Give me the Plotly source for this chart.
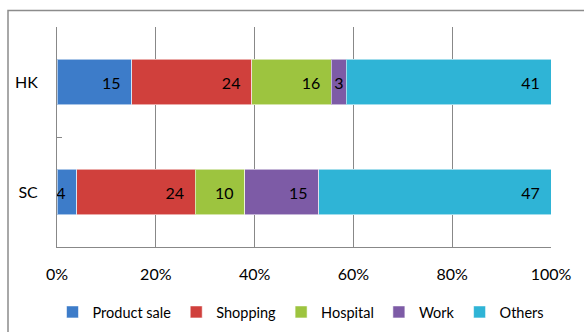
import plotly.graph_objects as go

# Share of trips by purpose, per region (stacked to 100%)
regions = ["SC", "HK"]
purposes = ["Product sale", "Shopping", "Hospital", "Work", "Others"]
values = {
    "Product sale": [4, 15],
    "Shopping": [24, 24],
    "Hospital": [10, 16],
    "Work": [15, 3],
    "Others": [47, 41],
}
colors = {
    "Product sale": "#3d7cc9",
    "Shopping": "#d0403c",
    "Hospital": "#9dc43f",
    "Work": "#7d5ba6",
    "Others": "#2fb4d6",
}
x_ticks = [0, 20, 40, 60, 80, 100]
x_tick_labels = ["0%", "20%", "40%", "60%", "80%", "100%"]

FONT = "Lato, 'Open Sans', sans-serif"
FS = 16

totals = [sum(values[p][i] for p in purposes) for i in range(len(regions))]


def label(v, total):
    # wide segments get a little breathing room before the bar end
    pad = "\u00a0\u00a0" if v / total >= 0.04 else ""
    return f"{v}{pad}"


fig = go.Figure()
for p in purposes:
    fig.add_trace(go.Bar(
        name=p,
        y=regions,
        x=values[p],
        orientation="h",
        marker=dict(color=colors[p], line=dict(color="rgba(255,255,255,0.55)", width=1)),
        text=[label(v, t) for v, t in zip(values[p], totals)],
        textposition="inside",
        insidetextanchor="end",
        constraintext="none",
        textfont=dict(family=FONT, size=FS, color="black"),
        hoverinfo="skip",
    ))

fig.update_layout(
    width=584,
    height=332,
    barmode="stack",
    barnorm="percent",
    bargap=0.59,
    paper_bgcolor="white",
    plot_bgcolor="white",
    margin=dict(l=57, r=33, t=27, b=85, autoexpand=False),
    font=dict(family=FONT, size=FS, color="black"),
    legend=dict(
        orientation="h",
        xref="container", yref="container",
        x=301 / 584, xanchor="center",
        y=1 - 312 / 332, yanchor="middle",
        font=dict(family=FONT, size=14.5),
        itemwidth=30,
        traceorder="normal",
    ),
    xaxis=dict(
        range=[0, 100],
        tickvals=x_ticks,
        ticktext=x_tick_labels,
        showgrid=True,
        gridcolor="#888888",
        gridwidth=1,
        showline=True,
        linecolor="#888888",
        linewidth=1,
        ticks="",
        ticklabelstandoff=13,
        zeroline=False,
        tickfont=dict(family=FONT, size=FS),
    ),
    yaxis=dict(
        categoryorder="array",
        categoryarray=regions,
        showline=True,
        linecolor="#888888",
        linewidth=1,
        ticks="inside",
        tickson="boundaries",
        ticklen=5,
        tickcolor="#888888",
        ticklabelstandoff=15,
        showgrid=False,
        tickfont=dict(family=FONT, size=FS),
    ),
    shapes=[
        # Chart frame (runs off the right and bottom edges)
        dict(type="rect", xref="paper", yref="paper",
             x0=(8 - 57) / 494, x1=1.2, y0=-0.6, y1=1 + (27 - 10.5) / 220,
             line=dict(color="#8c8c8c", width=1.5), layer="below"),
    ],
)

fig.write_html("out.html")
